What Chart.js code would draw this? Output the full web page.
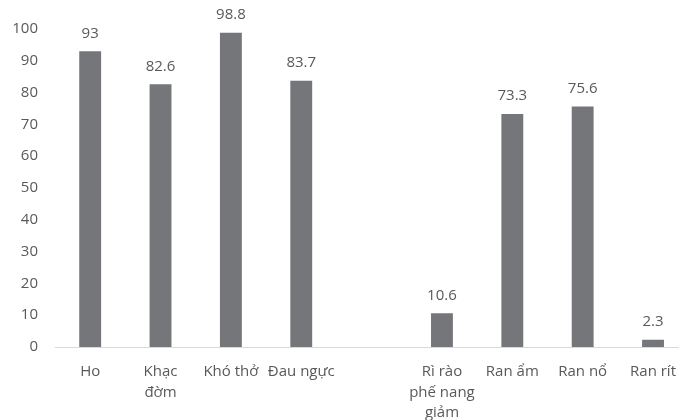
<!DOCTYPE html>
<html>
<head>
<meta charset="utf-8">
<script src="https://cdn.jsdelivr.net/npm/chart.js@4/dist/chart.umd.min.js"></script>
<style>
  html, body { margin: 0; padding: 0; background: #fff; overflow: hidden; }
  #wrap { position: relative; width: 691px; height: 420px; }
</style>
</head>
<body>
<div id="wrap"><canvas id="chart"></canvas></div>
<script>
const categories = [
  'Ho', ['Khạc', 'đờm'], 'Khó thở', 'Đau ngực', '',
  ['Rì rào', 'phế nang', 'giảm'], 'Ran ẩm', 'Ran nổ', 'Ran rít'
];
const values = [93, 82.6, 98.8, 83.7, null, 10.6, 73.3, 75.6, 2.3];
const yTicks = [0, 10, 20, 30, 40, 50, 60, 70, 80, 90, 100];

const textColor = '#595959';
const fontFamily = '"Open Sans", "Noto Sans", sans-serif';

// value labels above each bar
const valueLabels = {
  id: 'valueLabels',
  afterDatasetsDraw(chart) {
    const ctx = chart.ctx;
    const meta = chart.getDatasetMeta(0);
    ctx.save();
    ctx.fillStyle = textColor;
    ctx.font = '15px ' + fontFamily;
    ctx.textAlign = 'center';
    ctx.textBaseline = 'middle';
    meta.data.forEach((bar, i) => {
      const v = values[i];
      if (v === null) return;
      ctx.fillText(String(v), bar.x, bar.y - 18);
    });
    ctx.restore();
  }
};

new Chart(document.getElementById('chart'), {
  type: 'bar',
  data: {
    labels: categories,
    datasets: [{
      data: values,
      backgroundColor: '#75767a',
      borderWidth: 0,
      barPercentage: 1,
      categoryPercentage: 0.311
    }]
  },
  options: {
    responsive: true,
    maintainAspectRatio: false,
    animation: false,
    layout: { padding: { top: 29, left: 0, right: 0, bottom: 0 } },
    plugins: {
      legend: { display: false },
      tooltip: { enabled: false }
    },
    scales: {
      x: {
        grid: { display: false, drawTicks: false },
        border: { display: true, color: '#d9d9d9', width: 1 },
        ticks: {
          color: textColor,
          font: { family: fontFamily, size: 15, lineHeight: 1.36 },
          padding: 15,
          maxRotation: 0,
          autoSkip: false
        },
        afterFit(scale) { scale.height = 73; }
      },
      y: {
        min: 0,
        max: 100,
        afterBuildTicks(scale) { scale.ticks = yTicks.map(v => ({ value: v })); },
        grid: { display: false, drawTicks: false },
        border: { display: false },
        ticks: {
          color: textColor,
          font: { family: fontFamily, size: 15 },
          padding: 17
        },
        afterFit(scale) { scale.width = 55; }
      }
    }
  },
  plugins: [valueLabels]
});
</script>
</body>
</html>
